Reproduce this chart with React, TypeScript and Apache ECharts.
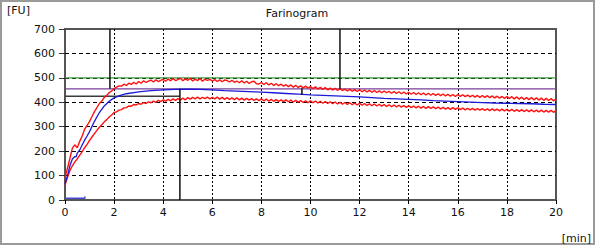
import React, { useEffect, useRef } from "react";
import * as echarts from "echarts";

// time step (min) between consecutive samples of the red band curves
const STEP = 0.1;

// upper red band curve [FU], samples every 0.1 min from 0 to 20
const upperRed = [
  90, 130, 170, 212, 226, 214, 240, 262, 290, 305,
  322, 342, 362, 378, 395, 405, 420, 428, 440, 446,
  456, 462, 467, 466, 474, 469, 478, 473, 482, 475,
  485, 478, 488, 481, 487, 491, 483, 492, 485, 490,
  494, 486, 495, 488, 497, 489, 493, 498, 488, 496,
  490, 498, 487, 495, 489, 497, 486, 494, 490, 494,
  487, 493, 485, 492, 484, 491, 489, 483, 490, 482,
  487, 480, 488, 479, 486, 477, 484, 486, 476, 475,
  481, 473, 480, 471, 478, 469, 476, 468, 474, 466,
  472, 464, 471, 462, 469, 461, 467, 459, 466, 458,
  464, 456, 463, 454, 461, 453, 460, 451, 458, 450,
  457, 449, 456, 448, 454, 446, 453, 445, 452, 444,
  451, 443, 450, 442, 449, 441, 448, 440, 447, 439,
  446, 439, 445, 437, 444, 436, 443, 435, 442, 434,
  441, 433, 440, 432, 439, 431, 438, 430, 437, 429,
  436, 428, 435, 427, 434, 426, 433, 425, 432, 424,
  432, 424, 431, 423, 430, 422, 429, 421, 428, 420,
  428, 420, 427, 419, 426, 418, 425, 417, 424, 416,
  424, 416, 423, 414, 422, 413, 421, 412, 419, 411,
  419, 410, 418, 409, 417, 408, 416, 407, 415, 406,
  413,
];

// lower red band curve [FU], samples every 0.1 min from 0 to 20
const lowerRed = [
  62, 92, 120, 140, 156, 168, 184, 198, 214, 228,
  244, 258, 272, 285, 298, 308, 320, 329, 340, 348,
  358, 361, 368, 370, 377, 378, 385, 384, 391, 389,
  395, 392, 399, 395, 402, 398, 405, 400, 408, 403,
  410, 405, 412, 406, 414, 408, 415, 409, 417, 410,
  419, 413, 420, 414, 421, 414, 420, 415, 421, 414,
  420, 414, 421, 413, 420, 412, 419, 412, 418, 411,
  418, 410, 417, 409, 416, 409, 415, 408, 414, 407,
  414, 406, 413, 405, 412, 404, 411, 404, 410, 403,
  410, 402, 409, 401, 408, 400, 407, 399, 406, 398,
  406, 398, 405, 397, 404, 396, 403, 395, 402, 394,
  401, 393, 400, 392, 399, 391, 398, 390, 397, 389,
  396, 388, 395, 387, 394, 386, 393, 385, 392, 384,
  391, 383, 390, 382, 389, 381, 388, 380, 387, 379,
  386, 378, 385, 377, 384, 376, 383, 375, 382, 375,
  381, 374, 380, 373, 379, 372, 378, 371, 378, 371,
  377, 370, 376, 369, 375, 369, 375, 368, 374, 368,
  374, 367, 373, 366, 373, 366, 372, 365, 372, 365,
  371, 364, 371, 363, 370, 363, 370, 362, 369, 362,
  369, 361, 368, 361, 368, 360, 367, 360, 367, 359,
  366,
];

// blue median curve [min, FU]
const blueCurve = [
  [0, 65], [0.1, 100], [0.2, 140], [0.3, 168], [0.4, 178], [0.45, 176],
  [0.5, 192], [0.6, 205], [0.7, 225], [0.8, 245], [0.9, 262], [1.0, 280],
  [1.2, 322], [1.4, 358], [1.6, 385], [1.8, 404], [2.0, 418], [2.25, 428],
  [2.5, 435], [3.0, 443], [3.5, 448], [4.0, 451], [4.5, 453], [5.0, 454],
  [5.5, 453], [6.0, 451], [6.5, 448], [7.0, 446], [7.5, 444], [8.0, 442],
  [8.5, 439], [9.0, 436], [9.5, 433], [10.0, 430], [10.5, 428], [11.0, 426],
  [11.5, 424], [12.0, 422], [12.5, 419], [13.0, 416], [13.5, 414], [14.0, 412],
  [14.5, 410], [15.0, 407], [15.5, 405], [16.0, 403], [16.5, 401], [17.0, 399],
  [17.5, 397], [18.0, 396], [18.5, 395], [19.0, 394], [19.5, 392], [20.0, 391],
];

// small blue baseline segment near zero
const blueBase = [[0, 7], [0.81, 7], [0.81, 14]];

// reference lines [min, FU]
const greenLine = [[0, 500], [20, 500]];
const purpleLine = [[0, 455], [20, 455]];
const darkLine = [[0, 425], [4.68, 425]];

// black marker lines [min, FU]
const markerA = [[1.83, 700], [1.83, 455]];
const markerB = [[4.68, 455], [4.68, 0]];
const markerC = [[11.2, 700], [11.2, 455]];
const markerD = [[9.65, 457], [9.65, 430]];

const xTicks = { min: 0, max: 20, interval: 2 };
const yTicks = { min: 0, max: 700, interval: 100 };

const FONT = "DejaVu Sans";

export default function App() {
  const ref = useRef<HTMLDivElement>(null);

  useEffect(() => {
    if (!ref.current) return;
    const chart = echarts.init(ref.current, null, { renderer: "svg" });

    const line = (data: number[][], color: string, width: number, z = 2) => ({
      type: "line",
      data,
      showSymbol: false,
      symbol: "none",
      lineStyle: { color, width },
      silent: true,
      z,
    });

    chart.setOption({
      animation: false,
      backgroundColor: "#ffffff",
      grid: {
        left: 65,
        top: 29,
        width: 491,
        height: 171,
        show: true,
        borderColor: "#555555",
        borderWidth: 2,
        backgroundColor: "transparent",
      },
      xAxis: {
        type: "value",
        min: xTicks.min,
        max: xTicks.max,
        interval: xTicks.interval,
        axisLine: { show: false },
        axisTick: { show: true, length: 4, lineStyle: { color: "#000", width: 1 } },
        axisLabel: { margin: 7, color: "#111", fontFamily: FONT, fontSize: 11 },
        splitLine: {
          show: true,
          showMinLine: false,
          showMaxLine: false,
          lineStyle: { color: "#000", width: 1, type: [2, 2] },
        },
      },
      yAxis: {
        type: "value",
        min: yTicks.min,
        max: yTicks.max,
        interval: yTicks.interval,
        axisLine: { show: false },
        axisTick: { show: true, length: 6, lineStyle: { color: "#333", width: 1 } },
        axisLabel: { margin: 10, color: "#111", fontFamily: FONT, fontSize: 11 },
        splitLine: {
          show: true,
          showMinLine: false,
          showMaxLine: false,
          lineStyle: { color: "#000", width: 1, type: [4, 3] },
        },
      },
      series: [
        line(greenLine, "#3f9f3f", 1.2, 1),
        line(purpleLine, "#7a3f9a", 1.2, 1),
        line(darkLine, "#3a3a3a", 1.5, 1),
        line(upperRed.map((v, i) => [i * STEP, v]), "#ff1010", 1.4, 2),
        line(lowerRed.map((v, i) => [i * STEP, v]), "#ff1010", 1.4, 2),
        line(blueCurve, "#1a1ad8", 1.3, 3),
        line(blueBase, "#4848d8", 1.5, 3),
        line(markerA, "#111111", 1.5, 4),
        line(markerB, "#111111", 1.5, 4),
        line(markerC, "#111111", 1.5, 4),
        line(markerD, "#111111", 1.5, 4),
      ],
      graphic: [
        {
          type: "rect",
          shape: { x: 1, y: 1, width: 593, height: 243 },
          style: { fill: "none", stroke: "#9a9a9a", lineWidth: 2 },
          silent: true,
        },
        {
          type: "text",
          left: 7,
          top: 5,
          style: { text: "[FU]", font: `11px '${FONT}'`, fill: "#111" },
        },
        {
          type: "text",
          x: 297,
          y: 13,
          style: {
            text: "Farinogram",
            font: `11px '${FONT}'`,
            fill: "#111",
            align: "center",
            verticalAlign: "middle",
          },
        },
        {
          type: "text",
          x: 591,
          y: 238,
          style: {
            text: "[min]",
            font: `11px '${FONT}'`,
            fill: "#111",
            align: "right",
            verticalAlign: "middle",
          },
        },
      ],
    });

    return () => chart.dispose();
  }, []);

  return (
    <div
      ref={ref}
      style={{ position: "absolute", left: 0, top: 0, width: 596, height: 247, background: "#fff" }}
    />
  );
}
